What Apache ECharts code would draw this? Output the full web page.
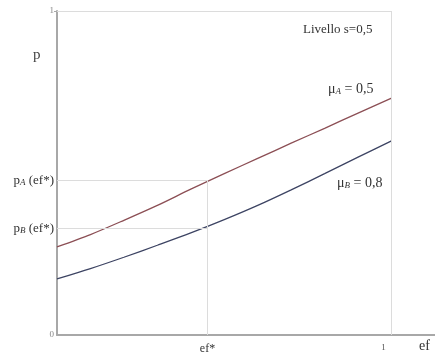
<!DOCTYPE html>
<html>
<head>
<meta charset="utf-8">
<script src="https://cdn.jsdelivr.net/npm/echarts@6/dist/echarts.min.js"></script>
<style>
  html, body { margin: 0; padding: 0; background: #fff; }
  #chart { width: 435px; height: 358px; }
</style>
</head>
<body>
<div id="chart"></div>
<script>
// valori
var ef = [0, 0.1, 0.2, 0.3, 0.4, 0.5, 0.6, 0.7, 0.8, 0.9, 1.0];
var pA = [0.272, 0.310, 0.354, 0.400, 0.450, 0.498, 0.545, 0.592, 0.638, 0.685, 0.731];
var pB = [0.173, 0.205, 0.240, 0.277, 0.315, 0.356, 0.400, 0.448, 0.498, 0.549, 0.599];
var efStar = 0.45;
var pAStar = 0.478;
var pBStar = 0.33;

var serif = '"Liberation Serif", "DejaVu Serif", serif';

function pairs(xs, ys) {
    return xs.map(function (x, i) { return [x, ys[i]]; });
}

var chart = echarts.init(document.getElementById('chart'));

var gridLine = { color: '#dcdcdc', width: 1, type: 'solid' };
var subStyle = { fontSize: 9, fontStyle: 'italic', fontFamily: serif, fill: '#333', padding: [6, 0, 0, 0] };

var option = {
    animation: false,
    grid: { left: 57, right: 0, top: 11, bottom: 23 },
    xAxis: {
        type: 'value',
        min: 0,
        max: 1.13,
        splitLine: { show: false },
        axisLine: { lineStyle: { color: '#a8a8a8', width: 2 } },
        axisTick: { show: false },
        axisLabel: {
            customValues: [efStar, 1],
            margin: 8,
            fontFamily: serif,
            fontSize: 12,
            color: '#333',
            formatter: function (v) { return v === 1 ? '{s|1}' : 'ef*'; },
            rich: { s: { fontSize: 9, color: '#555', fontFamily: serif, padding: [0, 16, 0, 0] } }
        }
    },
    yAxis: {
        type: 'value',
        min: 0,
        max: 1,
        splitLine: { show: false },
        axisLine: { lineStyle: { color: '#a8a8a8', width: 2 } },
        axisTick: { show: true, customValues: [1], length: 3, lineStyle: { color: '#a8a8a8' } },
        axisLabel: {
            customValues: [0, pBStar, pAStar, 1],
            margin: 3,
            fontFamily: serif,
            fontSize: 13,
            color: '#333',
            formatter: function (v) {
                if (v === 0) return '{g|0}';
                if (v === 1) return '{g|1}';
                if (v === pAStar) return 'p{sub|A} (ef*)';
                return 'p{sub|B} (ef*)';
            },
            rich: {
                sub: { fontSize: 9, fontStyle: 'italic', fontFamily: serif, color: '#333', verticalAlign: 'bottom', padding: [5, 0, 0, 0] },
                g: { fontSize: 9, color: '#888', fontFamily: serif }
            }
        }
    },
    series: [
        {
            name: 'mu_A',
            type: 'line',
            smooth: 0.3,
            symbol: 'none',
            lineStyle: { color: '#8c4f55', width: 1.3 },
            data: pairs(ef, pA),
            markLine: {
                silent: true,
                symbol: 'none',
                label: { show: false },
                lineStyle: gridLine,
                data: [
                    [{ coord: [0, pAStar] }, { coord: [efStar, pAStar] }],
                    [{ coord: [0, pBStar] }, { coord: [efStar, pBStar] }],
                    [{ coord: [efStar, 0] }, { coord: [efStar, pAStar] }],
                    [{ coord: [0, 1] }, { coord: [1, 1] }],
                    [{ coord: [1, 0] }, { coord: [1, 1] }]
                ]
            }
        },
        {
            name: 'mu_B',
            type: 'line',
            smooth: 0.3,
            symbol: 'none',
            lineStyle: { color: '#3d4463', width: 1.3 },
            data: pairs(ef, pB)
        }
    ],
    graphic: [
        { type: 'text', left: 303, top: 23, style: { text: 'Livello s=0,5', font: '13px ' + serif, fill: '#333' } },
        { type: 'text', left: 328, top: 82, style: { text: 'μ{sub|A} = 0,5', font: '14px ' + serif, fill: '#333', rich: { sub: subStyle } } },
        { type: 'text', left: 337, top: 176, style: { text: 'μ{sub|B} = 0,8', font: '14px ' + serif, fill: '#333', rich: { sub: subStyle } } },
        { type: 'text', left: 33, top: 48, style: { text: 'p', font: '15px ' + serif, fill: '#444' } },
        { type: 'text', left: 419, top: 339, style: { text: 'ef', font: '14px ' + serif, fill: '#333' } }
    ]
};

chart.setOption(option);
</script>
</body>
</html>
